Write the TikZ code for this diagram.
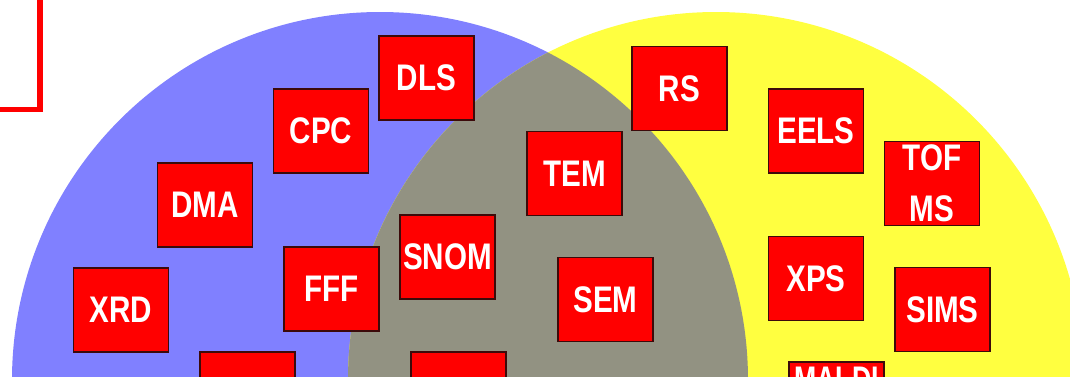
\documentclass[tikz,border=0pt]{standalone}
\usepackage{fontspec}
\newfontfamily\labfont[FakeStretch=0.80]{Liberation Sans}
\definecolor{setblue}{RGB}{128,128,255}
\definecolor{setyellow}{RGB}{255,255,64}
\definecolor{setgray}{RGB}{146,146,130}
\definecolor{boxedge}{RGB}{60,10,10}
\tikzset{
  tech/.style={rectangle, fill=red, draw=boxedge, line width=1.4pt,
    minimum width=95pt, minimum height=84pt, inner sep=0pt,
    text=white, align=center,
    font=\labfont\bfseries\fontsize{37}{51}\selectfont},
  frame/.style={draw=red, line width=5.5pt}
}
\begin{document}
\begin{tikzpicture}[x=1pt, y=-1pt]
  \path[use as bounding box] (0,0) rectangle (1070,376);
  \clip (0,0) rectangle (1070,376);

  % the two sets and their overlap
  \coordinate (cb) at (380,380);
  \coordinate (cy) at (716,380);
  \fill[setblue] (cb) circle (368pt);
  \fill[setyellow] (cy) circle (368pt);
  \begin{scope}
    \clip (cb) circle (368pt);
    \fill[setgray] (cy) circle (368pt);
  \end{scope}

  % corner frame
  \draw[frame] (-60,-60) rectangle (40,109.5);

  % techniques
  \node[tech] (dls)  at (426.5,78)    {DLS};
  \node[tech] (cpc)  at (321,131)     {CPC};
  \node[tech] (dma)  at (205,205)     {DMA};
  \node[tech] (xrd)  at (121,310)     {XRD};
  \node[tech] (fff)  at (331.5,289)   {FFF};
  \node[tech] (b1)   at (247.5,394)   {};
  \node[tech] (snom) at (447.5,257)   {SNOM};
  \node[tech] (tem)  at (574.5,173.5) {TEM};
  \node[tech] (sem)  at (605.5,299.5) {SEM};
  \node[tech] (b2)   at (458.5,394)   {};
  \node[tech] (rs)   at (679.5,88.5)  {RS};
  \node[tech] (eels) at (816,131)     {EELS};
  \node[tech] (xps)  at (816,278.5)   {XPS};
  \node[tech] (tof)  at (932,183.5)   {TOF\\MS};
  \node[tech] (sims) at (942.5,309.5) {SIMS};
  \node[tech, text height=30pt, text depth=54pt] (maldi) at (836.5,404)
    {\scalebox{0.9}[1]{MALDI}};
\end{tikzpicture}
\end{document}
